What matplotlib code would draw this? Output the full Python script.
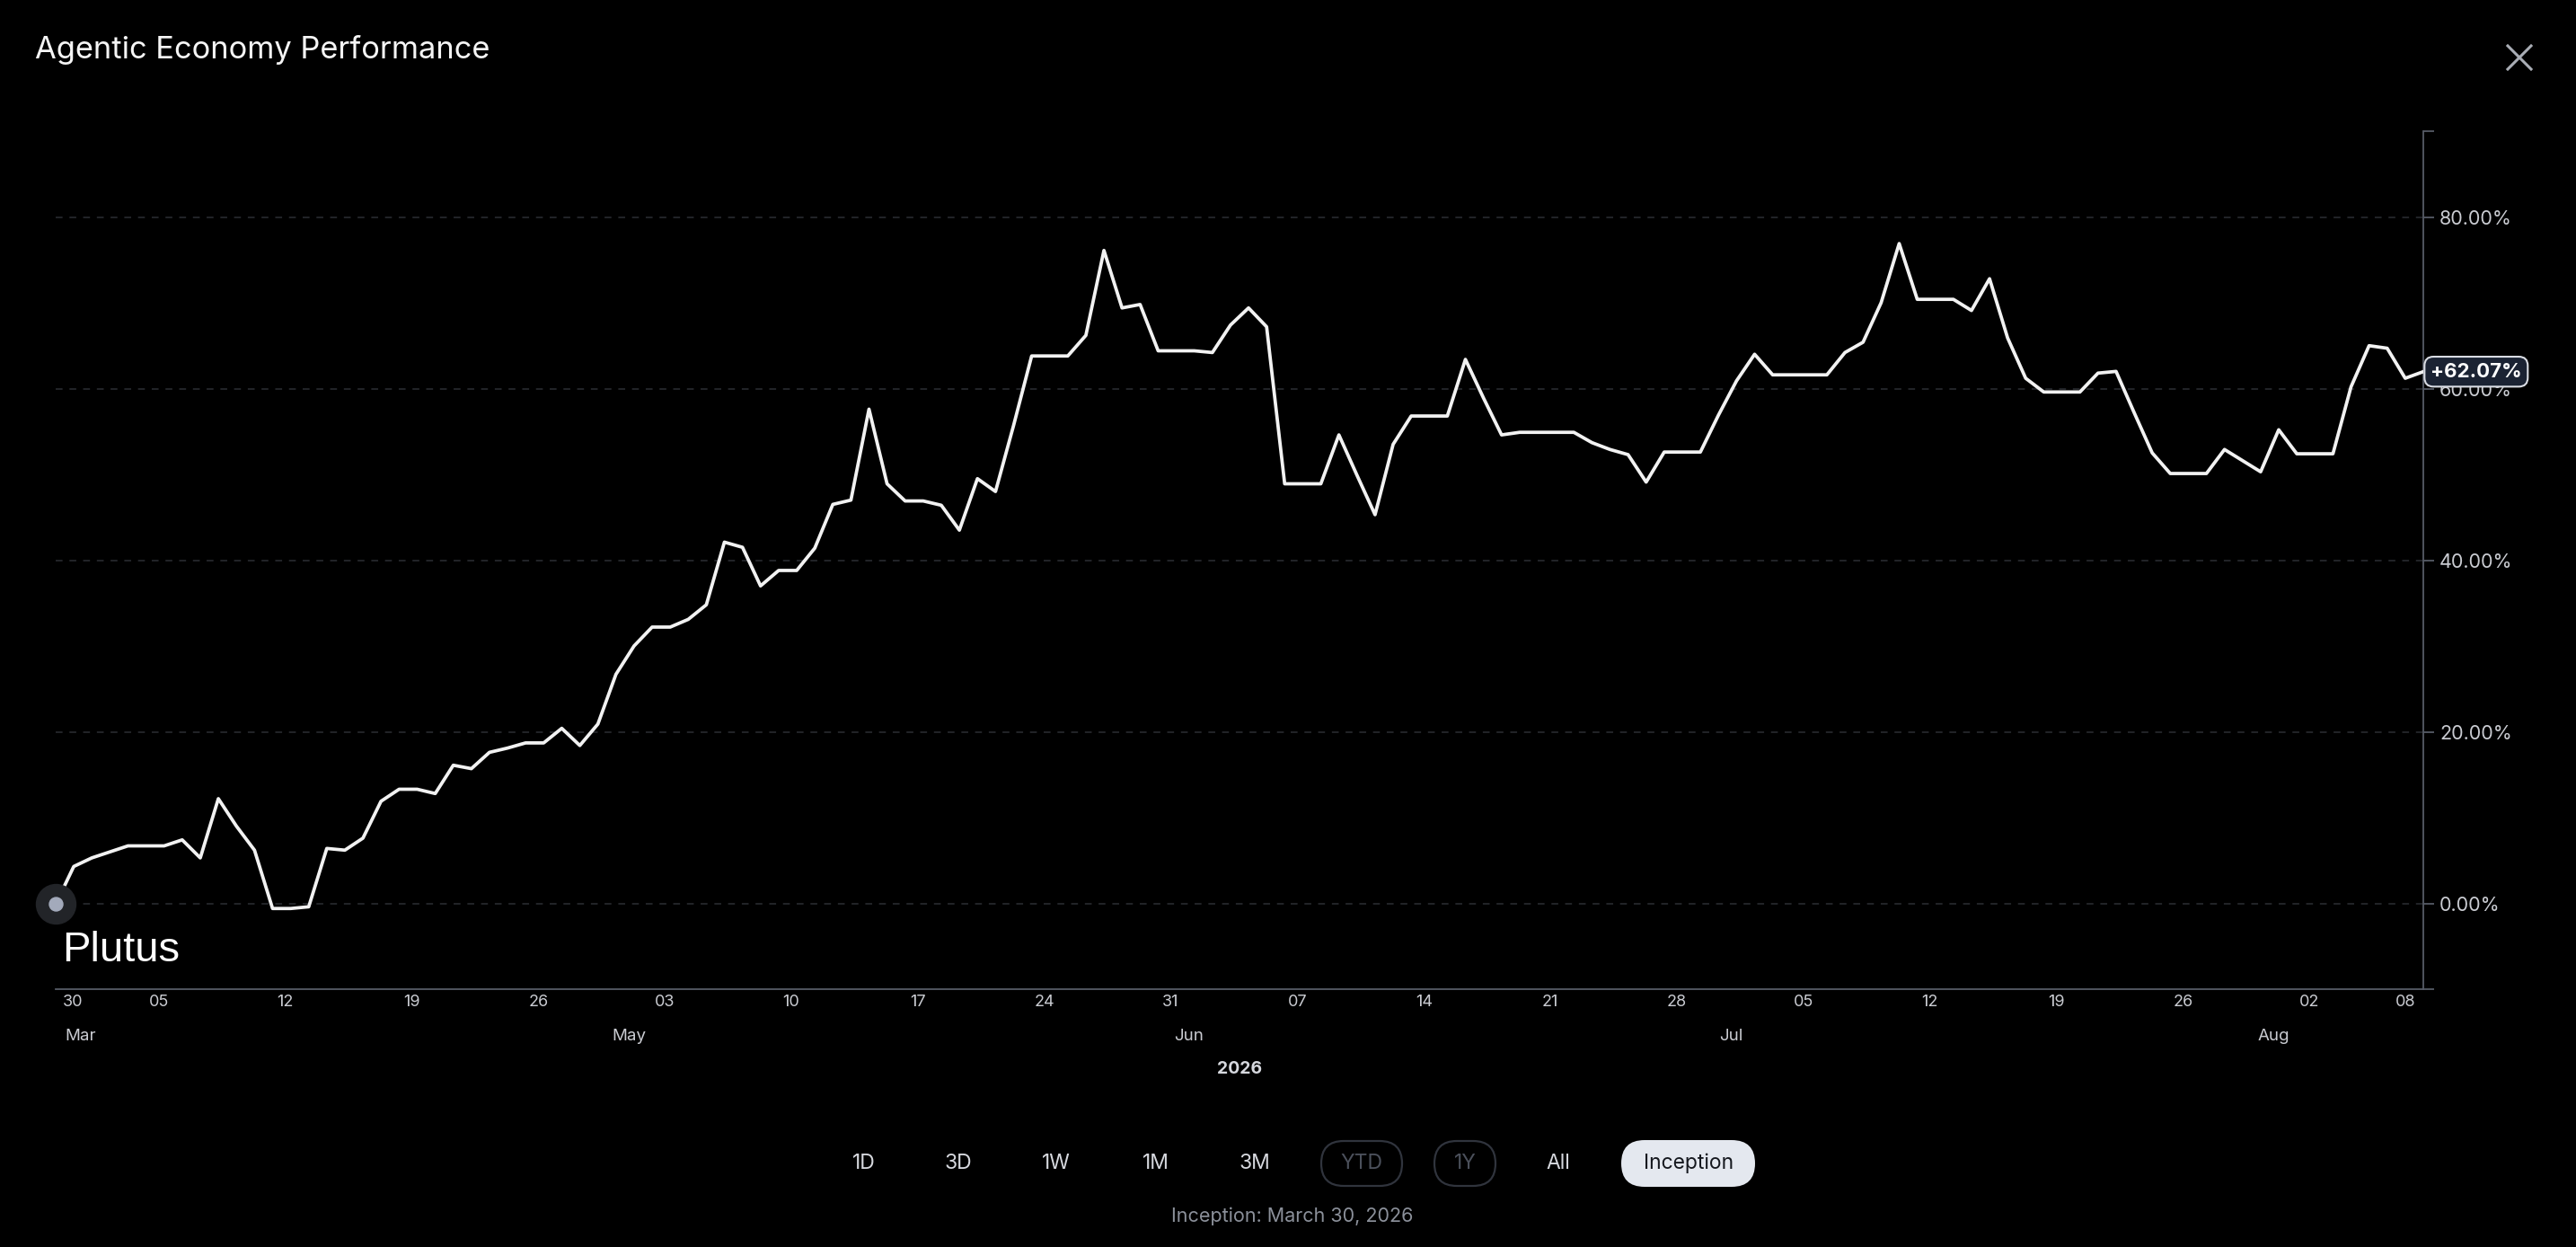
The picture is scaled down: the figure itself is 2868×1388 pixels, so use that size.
import matplotlib
matplotlib.use("Agg")
import matplotlib.pyplot as plt
import matplotlib.dates as mdates
from matplotlib.lines import Line2D
from matplotlib.patches import FancyBboxPatch
import pandas as pd

# daily performance (%) since inception
perf = [
    0.0, 4.4, 5.4, 6.1, 6.8, 6.8, 6.8, 7.5, 5.4, 12.3,
    9.1, 6.3, -0.5, -0.5, -0.3, 6.5, 6.3, 7.7, 12.0, 13.4,
    13.4, 12.9, 16.2, 15.8, 17.7, 18.2, 18.8, 18.8, 20.5, 18.5,
    21.0, 26.8, 30.1, 32.3, 32.3, 33.2, 34.9, 42.2, 41.6, 37.1,
    38.9, 38.9, 41.5, 46.6, 47.1, 57.7, 49.0, 47.0, 47.0, 46.5,
    43.6, 49.6, 48.1, 55.8, 63.9, 63.9, 63.9, 66.3, 76.2, 69.5,
    69.9, 64.5, 64.5, 64.5, 64.3, 67.5, 69.5, 67.3, 49.0, 49.0,
    49.0, 54.7, 50.0, 45.4, 53.6, 56.9, 56.9, 56.9, 63.5, 59.0,
    54.7, 55.0, 55.0, 55.0, 55.0, 53.8, 53.0, 52.4, 49.2, 52.7,
    52.7, 52.7, 57.0, 61.0, 64.1, 61.7, 61.7, 61.7, 61.7, 64.3,
    65.5, 70.1, 77.0, 70.5, 70.5, 70.5, 69.2, 72.9, 66.0, 61.3,
    59.7, 59.7, 59.7, 61.9, 62.1, 57.3, 52.6, 50.2, 50.2, 50.2,
    53.0, 51.7, 50.4, 55.3, 52.5, 52.5, 52.5, 60.3, 65.1, 64.8,
    61.3, 62.07,
]
dates = pd.date_range("2026-03-30", periods=len(perf), freq="D")
xnum = mdates.date2num(dates.to_pydatetime())

week_ticks = pd.date_range("2026-04-05", "2026-08-02", freq="7D")
month_labels = ["Mar", "May", "Jun", "Jul", "Aug"]
month_dates = pd.to_datetime(["2026-03-30", "2026-05-01", "2026-06-01",
                              "2026-07-01", "2026-07-31"])
y_ticks = [0, 20, 40, 60, 80]
buttons = ["1D", "3D", "1W", "1M", "3M", "YTD", "1Y", "All", "Inception"]
button_x = [962, 1067, 1176, 1287, 1397, 1516, 1631, 1735, 1880]
disabled = ["YTD", "1Y"]

W, H = 2868, 1388
PX = 0.72  # pixels -> points at dpi 100
FONT = ["Inter", "DejaVu Sans"]
TXT = "#c9cbd1"
AXIS = "#565b66"

fig = plt.figure(figsize=(W / 100, H / 100), dpi=100, facecolor="black")

# main chart area
ax = fig.add_axes([62 / W, 287 / H, (2698 - 62) / W, (1101 - 146) / H])
ax.set_facecolor("black")
ax.plot(xnum, perf, color="#f2f2f2", lw=2.7, solid_joinstyle="round", zorder=3)
ax.plot(xnum[0], perf[0], "o", ms=44 * PX, color="#222428", zorder=4, clip_on=False)
ax.plot(xnum[0], perf[0], "o", ms=15 * PX, color="#a3aabb", zorder=5, clip_on=False)

ax.set_xlim(xnum[0], xnum[-1])
ax.set_ylim(-9.9, 90.1)

for side in ["top", "left"]:
    ax.spines[side].set_visible(False)
for side in ["bottom", "right"]:
    ax.spines[side].set_color(AXIS)
    ax.spines[side].set_linewidth(1.3)

ax.yaxis.tick_right()
ax.set_yticks(y_ticks)
ax.set_yticklabels([f"{v:.2f}%" for v in y_ticks], family=FONT)
ax.set_yticks([-9.9, 90.1], minor=True)
ax.tick_params(axis="y", which="both", length=12 * PX, width=1.3, color=AXIS,
               pad=6 * PX, labelsize=15.5, labelcolor=TXT)
ax.grid(axis="y", which="major", color="#2c2e33", lw=1.1, ls=(0, (5, 5)))
ax.set_xticks([])

# day labels along the bottom axis
xtrans = ax.get_xaxis_transform()
day_ticks = [dates[0]] + list(week_ticks) + [dates[-1]]
for i, d in enumerate(day_ticks):
    ha, dx = "center", -6
    if i == 0:
        ha, dx = "left", 8
    elif i == len(day_ticks) - 1:
        ha, dx = "right", -9
    ax.annotate(d.strftime("%d"), xy=(mdates.date2num(d), 0), xycoords=xtrans,
                xytext=(dx * PX, -14 * PX), textcoords="offset points",
                ha=ha, va="center", fontsize=13, color=TXT, family=FONT,
                annotation_clip=False)

for name, d in zip(month_labels, month_dates):
    ha, dx = ("left", 10) if name == "Mar" else ("center", -6)
    ax.annotate(name, xy=(mdates.date2num(d), 0), xycoords=xtrans,
                xytext=(dx * PX, -52 * PX), textcoords="offset points",
                ha=ha, va="center", fontsize=13.5, color=TXT, family=FONT,
                annotation_clip=False)

# last value badge
ax.annotate(f"+{perf[-1]:.2f}%", xy=(xnum[-1], perf[-1]),
            xytext=(8 * PX, 0), textcoords="offset points",
            ha="left", va="center", fontsize=16, fontweight="bold",
            color="white", family=FONT, zorder=10, annotation_clip=False,
            bbox=dict(boxstyle="round,pad=0.3,rounding_size=0.45",
                      fc="#1b2333", ec="#d9dce3", lw=1.5))

# overlay in pixel coordinates for the surrounding UI
ui = fig.add_axes([0, 0, 1, 1], zorder=5)
ui.set_xlim(0, W)
ui.set_ylim(H, 0)
ui.axis("off")
ui.patch.set_visible(False)

ui.text(39, 65, "Agentic Economy Performance", fontsize=24.8, color="#f5f5f5",
        va="baseline", ha="left", family=FONT)

cx, cy, r = 2805, 64, 13
ui.add_line(Line2D([cx - r, cx + r], [cy - r, cy + r], color="#a9adb5", lw=2.2))
ui.add_line(Line2D([cx - r, cx + r], [cy + r, cy - r], color="#a9adb5", lw=2.2))

ui.text(69, 1070, "Plutus", fontsize=34, color="white", va="baseline",
        ha="left", family=["Liberation Sans", "DejaVu Sans"])

ui.text(1380, 1190, "2026", fontsize=14, fontweight="bold", color="#d6d8de",
        ha="center", va="center", family=FONT)

for label, x in zip(buttons, button_x):
    color = "#d6d8de"
    if label in disabled:
        color = "#4b505b"
        w = 90 if label == "YTD" else 68
        ui.add_patch(FancyBboxPatch((x - w / 2, 1270), w, 50,
                                    boxstyle="round,pad=0,rounding_size=25",
                                    fc="none", ec="#30343d", lw=1.6))
    if label == "Inception":
        color = "#15181e"
        ui.add_patch(FancyBboxPatch((1805, 1269), 149, 52,
                                    boxstyle="round,pad=0,rounding_size=26",
                                    fc="#e4e8ef", ec="none"))
    ui.text(x, 1295, label, fontsize=16.5, color=color, ha="center", va="center",
            family=FONT)

ui.text(1439, 1354, "Inception: March 30, 2026", fontsize=15.5, color="#8b909a",
        ha="center", va="center", family=FONT)

fig.savefig("out.png", dpi=100, facecolor="black")
